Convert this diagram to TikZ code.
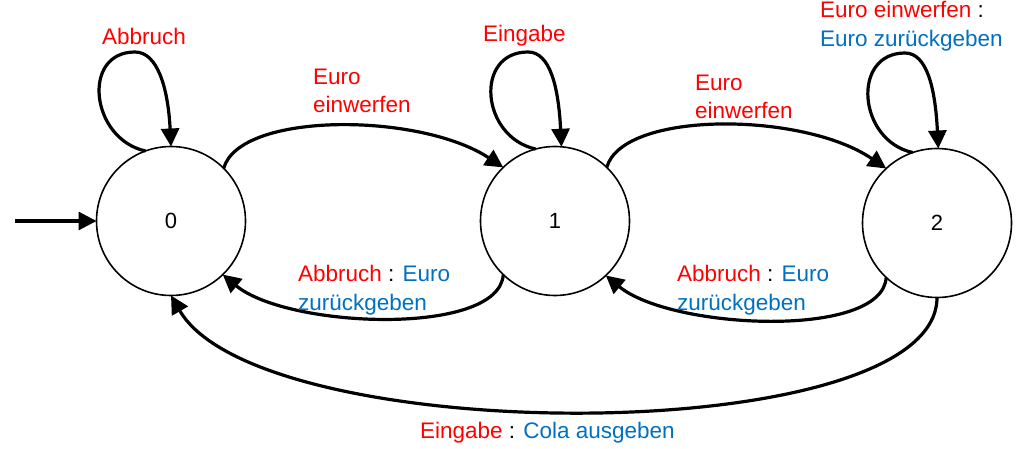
\documentclass[tikz,border=0pt]{standalone}
\usepackage{fontspec}
\setmainfont{Liberation Sans}
\usetikzlibrary{arrows.meta}
\definecolor{evred}{HTML}{FF0000}
\definecolor{outblue}{HTML}{0070C0}
\tikzset{
  state/.style={circle, draw=black, line width=1.6pt, minimum size=149pt, inner sep=0pt, outer sep=0pt, font=\fontsize{22}{26}\selectfont},
  edge/.style={line width=3.2pt, -{Triangle[length=18pt,width=18pt]}},
  lbl/.style={anchor=base west, inner sep=0pt, outer sep=0pt, font=\fontsize{22.5}{28}\selectfont},
  evlbl/.style={lbl, text=evred},
  outlbl/.style={lbl, text=outblue}
}
\begin{document}
\begin{tikzpicture}[x=1pt,y=-1pt]
\useasboundingbox (0,0) rectangle (1018,449);
% states
\node[state] (s0) at (171,221) {0};
\node[state] (s1) at (555,221) {1};
\node[state] (s2) at (937,223) {2};
% initial arrow
\coordinate (init) at (15,221);
\draw[edge] (init) -- (s0.west);
% loop apexes
\coordinate (a0) at (135,52);
\coordinate (a1) at (528,52);
\coordinate (a2) at (905,53);
% self loops
\draw[edge] (s0.110) .. controls +(-55,-12) and +(-54,0) .. (a0)
            .. controls +(22,0) and +(-3,-60) .. (s0.90);
\draw[edge] (s1.105) .. controls +(-55,-12) and +(-54,0) .. (a1)
            .. controls +(22,0) and +(-3,-60) .. (s1.85);
\draw[edge] (s2.109) .. controls +(-55,-12) and +(-54,0) .. (a2)
            .. controls +(22,0) and +(-3,-60) .. (s2.89);
% upper arcs
\draw[edge] (s0.45) .. controls +(16,-57) and +(-83,-55) .. (s1.134);
\draw[edge] (s1.46) .. controls +(16,-57) and +(-83,-57) .. (s2.133);
% lower arcs
\draw[edge] (s1.226) .. controls +(-4,62) and +(65,54) .. (s0.314);
\draw[edge] (s2.227) .. controls +(-4,62) and +(65,54) .. (s1.313);
% long bottom arc
\draw[edge] (s2.south) .. controls +(0,152) and +(89,154) .. (s0.south);
% labels
\node[evlbl] (l0) at (102,45) {Abbruch};
\node[evlbl] (l01a) at (313,85) {Euro};
\node[evlbl] (l01b) at (313,113) {einwerfen};
\node[evlbl] (l1) at (483,42) {Eingabe};
\node[evlbl] (l12a) at (695,91) {Euro};
\node[evlbl] (l12b) at (695,119) {einwerfen};
\node[lbl] (l2a) at (820,18) {\textcolor{evred}{Euro einwerfen} :};
\node[outlbl] (l2b) at (820,47) {Euro zurückgeben};
\node[lbl] (l10a) at (298,282) {\textcolor{evred}{Abbruch} : \textcolor{outblue}{Euro}};
\node[outlbl] (l10b) at (298,310) {zurückgeben};
\node[lbl] (l21a) at (677,282) {\textcolor{evred}{Abbruch} : \textcolor{outblue}{Euro}};
\node[outlbl] (l21b) at (677,310) {zurückgeben};
\node[lbl] (l20) at (420,438) {\textcolor{evred}{Eingabe} : \textcolor{outblue}{Cola ausgeben}};
\end{tikzpicture}
\end{document}
